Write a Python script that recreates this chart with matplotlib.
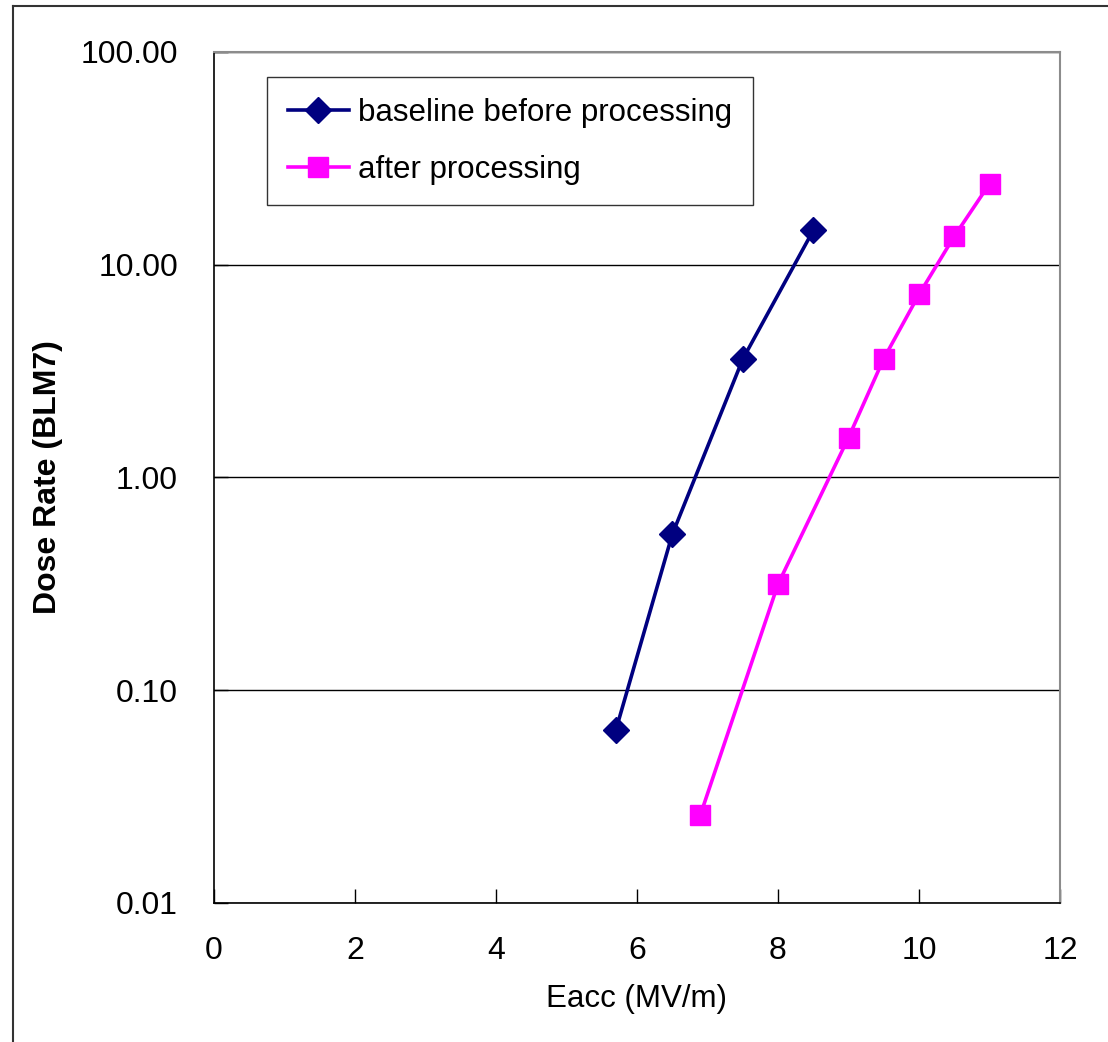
import numpy as np
import matplotlib
matplotlib.use("Agg")
import matplotlib.pyplot as plt
from matplotlib.lines import Line2D
from matplotlib.ticker import FixedLocator, FixedFormatter, NullLocator

# data
eacc_before = [5.7, 6.5, 7.5, 8.5]
dose_before = [0.065, 0.54, 3.6, 14.5]

eacc_after = [6.9, 8.0, 9.0, 9.5, 10.0, 10.5, 11.0]
dose_after = [0.026, 0.315, 1.54, 3.62, 7.25, 13.6, 24.0]

x_ticks = [0, 2, 4, 6, 8, 10, 12]
y_ticks = [0.01, 0.1, 1, 10, 100]
y_tick_labels = ["0.01", "0.10", "1.00", "10.00", "100.00"]

plt.rcParams['font.family'] = ['Liberation Sans', 'DejaVu Sans']

fig = plt.figure(figsize=(11.08, 10.42), dpi=100)
ax = fig.add_axes([214 / 1108, 1 - 903 / 1042, (1060 - 214) / 1108, (903 - 52) / 1042])

ax.plot(eacc_before, dose_before, color='#000080', lw=2.6, marker='D',
        ms=13, mfc='#000080', mec='#000080', label='baseline before processing')
ax.plot(eacc_after, dose_after, color='#FF00FF', lw=2.6, marker='s',
        ms=14, mfc='#FF00FF', mec='#FF00FF', label='after processing')

ax.set_yscale('log')
ax.set_xlim(0, 12)
ax.set_ylim(0.01, 100)
ax.xaxis.set_major_locator(FixedLocator(x_ticks))
ax.yaxis.set_major_locator(FixedLocator(y_ticks))
ax.yaxis.set_major_formatter(FixedFormatter(y_tick_labels))
ax.yaxis.set_minor_locator(NullLocator())
ax.tick_params(axis='both', direction='in', length=10, width=1, labelsize=23, color='black')
ax.tick_params(axis='x', pad=24)
ax.tick_params(axis='y', pad=26)
ax.yaxis.grid(True, color='black', lw=1)
ax.set_axisbelow(True)

for side in ['top', 'right']:
    ax.spines[side].set_color('#8c8c8c')
    ax.spines[side].set_linewidth(1.5)
for side in ['left', 'bottom']:
    ax.spines[side].set_color('black')
    ax.spines[side].set_linewidth(1.2)

ax.set_xlabel('Eacc (MV/m)', fontsize=22.5, labelpad=13)
ax.set_ylabel('Dose Rate (BLM7)', fontsize=23, fontweight='bold')
ax.yaxis.set_label_coords(-0.178, 0.5)

leg = ax.legend(loc='upper left', bbox_to_anchor=((267 - 214) / 846, 1 - (77 - 52) / 851),
                fontsize=22.5, frameon=True, fancybox=False, edgecolor='black',
                handlelength=1.95, borderpad=0.66, labelspacing=0.87, handletextpad=0.3,
                borderaxespad=0)
leg.get_frame().set_linewidth(1)

# outer chart border (left and top)
fig.add_artist(Line2D([13 / 1108, 13 / 1108], [0, 1 - 6 / 1042], color='#333333', lw=1.5))
fig.add_artist(Line2D([13 / 1108, 1], [1 - 6 / 1042, 1 - 6 / 1042], color='#333333', lw=1.5))

fig.savefig('out.png', dpi=100)
